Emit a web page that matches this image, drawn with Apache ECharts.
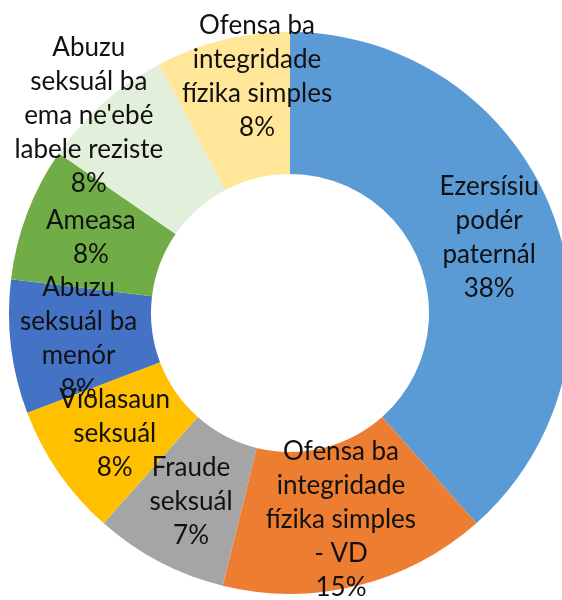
<!DOCTYPE html>
<html>
<head>
<meta charset="utf-8">
<script src="https://cdn.jsdelivr.net/npm/echarts@6/dist/echarts.min.js"></script>
<style>
  html, body { margin: 0; padding: 0; background: #fff; }
  #chart { width: 562px; height: 600px; }
</style>
</head>
<body>
<div id="chart"></div>
<script>
// categories (clockwise from 12 o'clock)
const categories = [
  'Ezersísiu podér paternál',
  'Ofensa ba integridade fízika simples - VD',
  'Fraude seksuál',
  'Violasaun seksuál',
  'Abuzu seksuál ba menór',
  'Ameasa',
  "Abuzu seksuál ba ema ne'ebé labele reziste",
  'Ofensa ba integridade fízika simples'
]
// wrapped label text as shown in the picture
const labelText = [
  'Ezersísiu\npodér\npaternál',
  'Ofensa ba\nintegridade\nfízika simples\n- VD',
  'Fraude\nseksuál',
  'Violasaun\nseksuál',
  'Abuzu\nseksuál ba\nmenór',
  'Ameasa',
  "Abuzu\nseksuál ba\nema ne'ebé\nlabele reziste",
  'Ofensa ba\nintegridade\nfízika simples'
]
// case counts (slice angles are 5/13, 2/13, 1/13 ...)
const counts = [5, 2, 1, 1, 1, 1, 1, 1]
// percentages as printed on the labels
const pctLabels = ['38%', '15%', '7%', '8%', '8%', '8%', '8%', '8%']
const colors = ['#5B9BD5', '#ED7D31', '#A5A5A5', '#FFC000', '#4472C4', '#70AD47', '#E2EFDA', '#FFE699']

// labels that were moved outward in the original
const labelShift = {
  6: [-60, -38],
  7: [18, -30]
}

const myChart = echarts.init(document.getElementById('chart'))
const option = {
  animation: false,
  series: [
    {
      type: 'pie',
      center: [290, 313],
      radius: [139, 281],
      startAngle: 90,
      clockwise: true,
      data: counts.map((v, i) => ({
        value: v,
        name: categories[i],
        itemStyle: { color: colors[i] }
      })),
      label: {
        show: true,
        position: 'inside',
        fontFamily: 'Lato',
        fontSize: 26,
        lineHeight: 34,
        color: '#111',
        align: 'center',
        formatter: (p) => labelText[p.dataIndex] + '\n' + pctLabels[p.dataIndex]
      },
      labelLine: { show: false },
      labelLayout: (p) => {
        const s = labelShift[p.dataIndex]
        return s ? { dx: s[0], dy: s[1] } : {}
      },
      emphasis: { disabled: true }
    }
  ]
}
myChart.setOption(option)
</script>
</body>
</html>
